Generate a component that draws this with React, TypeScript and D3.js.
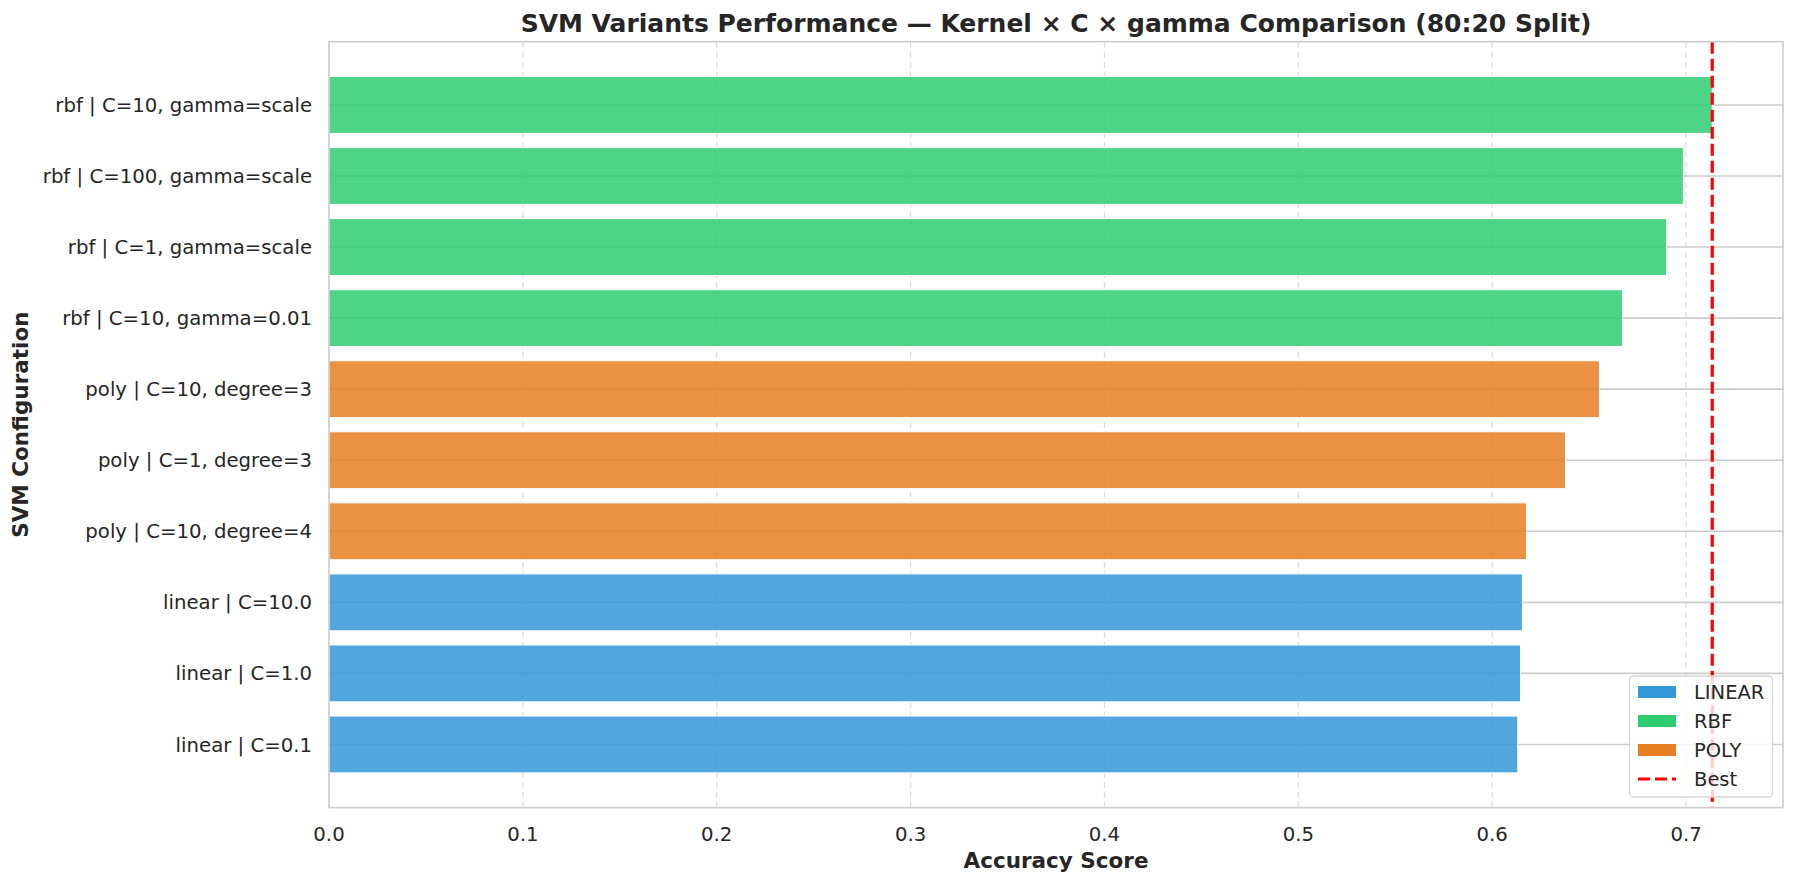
import React, { useEffect, useRef } from 'react';
import * as d3 from 'd3';

// configs listed top to bottom as drawn
const configLabels = [
  'rbf | C=10, gamma=scale',
  'rbf | C=100, gamma=scale',
  'rbf | C=1, gamma=scale',
  'rbf | C=10, gamma=0.01',
  'poly | C=10, degree=3',
  'poly | C=1, degree=3',
  'poly | C=10, degree=4',
  'linear | C=10.0',
  'linear | C=1.0',
  'linear | C=0.1',
];
const configKernels = ['rbf', 'rbf', 'rbf', 'rbf', 'poly', 'poly', 'poly', 'linear', 'linear', 'linear'];
const accuracyValues = [0.7135, 0.6986, 0.6899, 0.6672, 0.6553, 0.6378, 0.6177, 0.6156, 0.6146, 0.6132];
const bestScore = 0.7135;
const xTicks = [0.0, 0.1, 0.2, 0.3, 0.4, 0.5, 0.6, 0.7];

const legendKernels = ['linear', 'rbf', 'poly'];
const kernelColors: { [k: string]: string } = {
  linear: '#3498db',
  rbf: '#2ecc71',
  poly: '#e67e22',
};

const W = 1795;
const H = 884;
const FONT = '"DejaVu Sans", sans-serif';
const TEXT = '#262626';

const App: React.FC = () => {
  const svgRef = useRef<SVGSVGElement>(null);

  useEffect(() => {
    if (!svgRef.current) return;
    const svg = d3.select(svgRef.current);
    svg.selectAll('*').remove();

    const left = 329, right = 1783, top = 41.7, bottom = 807.7;

    const x = d3.scaleLinear().domain([0, 0.75]).range([left, right]);
    const y = d3.scaleBand<string>()
      .domain(configLabels)
      .range([top, bottom])
      .paddingInner(0.2)
      .paddingOuter(0.49);

    svg.append('rect').attr('width', W).attr('height', H).attr('fill', '#fff');

    // vertical dashed grid
    svg.append('g')
      .selectAll('line')
      .data(xTicks)
      .enter()
      .append('line')
      .attr('x1', d => x(d))
      .attr('x2', d => x(d))
      .attr('y1', top)
      .attr('y2', bottom)
      .attr('stroke', '#dcdcdc')
      .attr('stroke-width', 1.3)
      .attr('stroke-dasharray', '6,4');

    // horizontal solid grid at bar centres
    svg.append('g')
      .selectAll('line')
      .data(configLabels)
      .enter()
      .append('line')
      .attr('x1', left)
      .attr('x2', right)
      .attr('y1', d => (y(d) as number) + y.bandwidth() / 2)
      .attr('y2', d => (y(d) as number) + y.bandwidth() / 2)
      .attr('stroke', '#cccccc')
      .attr('stroke-width', 1.6);

    // bars
    svg.append('g')
      .selectAll('rect')
      .data(configLabels)
      .enter()
      .append('rect')
      .attr('x', x(0))
      .attr('y', d => y(d) as number)
      .attr('width', (_, i) => x(accuracyValues[i]) - x(0))
      .attr('height', y.bandwidth())
      .attr('fill', (_, i) => kernelColors[configKernels[i]])
      .attr('fill-opacity', 0.85)
      .attr('stroke', '#ffffff')
      .attr('stroke-width', 1);

    // best line
    svg.append('line')
      .attr('x1', x(bestScore))
      .attr('x2', x(bestScore))
      .attr('y1', top)
      .attr('y2', bottom)
      .attr('stroke', '#ff0000')
      .attr('stroke-width', 3.2)
      .attr('stroke-dasharray', '12,5');

    // frame
    svg.append('rect')
      .attr('x', left)
      .attr('y', top)
      .attr('width', right - left)
      .attr('height', bottom - top)
      .attr('fill', 'none')
      .attr('stroke', '#cccccc')
      .attr('stroke-width', 1.6);

    // x tick labels
    svg.append('g')
      .selectAll('text')
      .data(xTicks)
      .enter()
      .append('text')
      .attr('x', d => x(d))
      .attr('y', 841)
      .attr('text-anchor', 'middle')
      .style('font-family', FONT)
      .style('font-size', '19.7px')
      .attr('fill', TEXT)
      .text(d => d.toFixed(1));

    // y tick labels
    svg.append('g')
      .selectAll('text')
      .data(configLabels)
      .enter()
      .append('text')
      .attr('x', 312)
      .attr('y', d => (y(d) as number) + y.bandwidth() / 2)
      .attr('dy', '0.36em')
      .attr('text-anchor', 'end')
      .style('font-family', FONT)
      .style('font-size', '19.7px')
      .attr('fill', TEXT)
      .text(d => d);

    // title
    svg.append('text')
      .attr('x', (left + right) / 2)
      .attr('y', 31.5)
      .attr('text-anchor', 'middle')
      .style('font-family', FONT)
      .style('font-size', '25px')
      .style('font-weight', 'bold')
      .attr('fill', TEXT)
      .text('SVM Variants Performance — Kernel × C × gamma Comparison (80:20 Split)');

    // axis labels
    svg.append('text')
      .attr('x', (left + right) / 2)
      .attr('y', 868)
      .attr('text-anchor', 'middle')
      .style('font-family', FONT)
      .style('font-size', '21.5px')
      .style('font-weight', 'bold')
      .attr('fill', TEXT)
      .text('Accuracy Score');

    svg.append('text')
      .attr('transform', `translate(28,${(top + bottom) / 2}) rotate(-90)`)
      .attr('text-anchor', 'middle')
      .style('font-family', FONT)
      .style('font-size', '21.5px')
      .style('font-weight', 'bold')
      .attr('fill', TEXT)
      .text('SVM Configuration');

    // legend
    const legend = svg.append('g');
    legend.append('rect')
      .attr('x', 1629.5)
      .attr('y', 676)
      .attr('width', 143)
      .attr('height', 121)
      .attr('rx', 4)
      .attr('fill', '#ffffff')
      .attr('fill-opacity', 0.8)
      .attr('stroke', '#d6d6d6')
      .attr('stroke-width', 1.3);

    const rowY = (i: number) => 692 + i * 29;
    legendKernels.forEach((k, i) => {
      legend.append('rect')
        .attr('x', 1638)
        .attr('y', rowY(i) - 6)
        .attr('width', 38)
        .attr('height', 12)
        .attr('fill', kernelColors[k]);
      legend.append('text')
        .attr('x', 1694)
        .attr('y', rowY(i))
        .attr('dy', '0.36em')
        .style('font-family', FONT)
        .style('font-size', '19.5px')
        .attr('fill', TEXT)
        .text(k.toUpperCase());
    });
    legend.append('line')
      .attr('x1', 1638)
      .attr('x2', 1676)
      .attr('y1', rowY(3))
      .attr('y2', rowY(3))
      .attr('stroke', '#ff0000')
      .attr('stroke-width', 3.2)
      .attr('stroke-dasharray', '12,5');
    legend.append('text')
      .attr('x', 1694)
      .attr('y', rowY(3))
      .attr('dy', '0.36em')
      .style('font-family', FONT)
      .style('font-size', '19.5px')
      .attr('fill', TEXT)
      .text('Best');
  }, []);

  return (
    <div style={{ position: 'absolute', left: 0, top: 0 }}>
      <svg ref={svgRef} width={W} height={H} style={{ display: 'block' }} />
    </div>
  );
};

export default App;
